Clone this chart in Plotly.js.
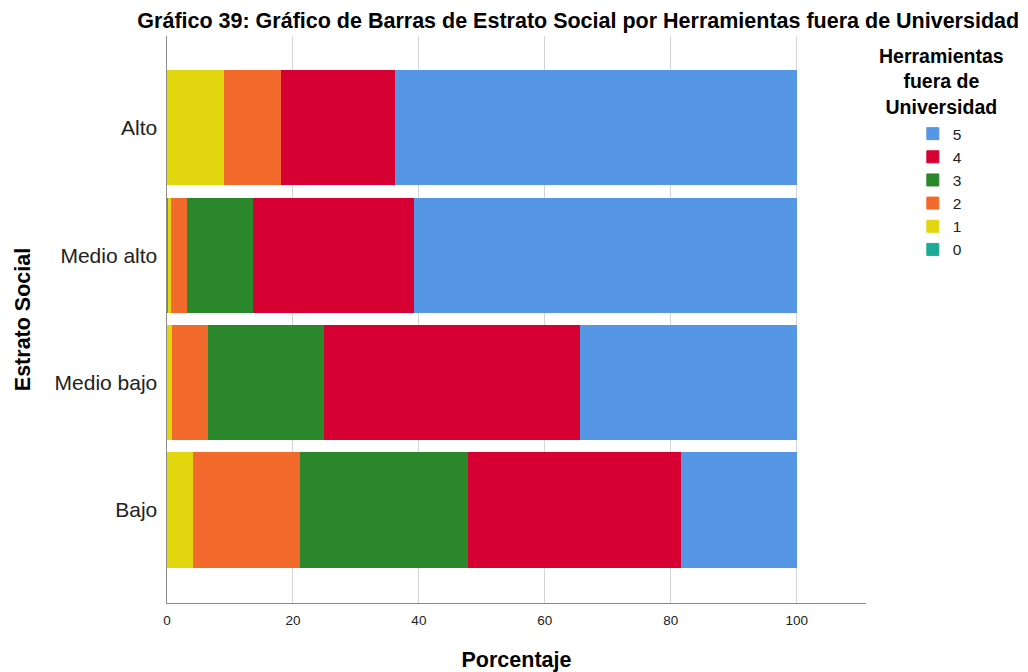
<!DOCTYPE html>
<html>
<head>
<meta charset="utf-8">
<script src="https://cdn.plot.ly/plotly-3.0.1.min.js"></script>
<style>html,body{margin:0;padding:0;background:#fff;}#chart{width:1028px;height:672px;}</style>
</head>
<body>
<div id="chart"></div>
<script>
const categories = ["Alto", "Medio alto", "Medio bajo", "Bajo"];
const seriesNames = ["0", "1", "2", "3", "4", "5"];
const v0 = [0, 0.26, 0, 0];
const v1 = [9.09, 0.43, 0.95, 4.2];
const v2 = [9.09, 2.64, 5.65, 17.0];
const v3 = [0, 10.4, 18.4, 26.7];
const v4 = [18.18, 25.6, 40.6, 33.85];
const v5 = [63.64, 60.67, 34.4, 18.25];
const xTicks = [0, 20, 40, 60, 80, 100];
const legendTitleLines = ["Herramientas", "fuera de", "Universidad"];
const colors = ["#1AAA96", "#E2D60E", "#F26A2C", "#2A872C", "#D60032", "#5596E5"];

const values = [v0, v1, v2, v3, v4, v5];
const font = "Arial, 'Liberation Sans', sans-serif";
const traces = values.map((vals, i) => ({
  type: "bar",
  orientation: "h",
  name: seriesNames[i],
  y: categories,
  x: vals,
  marker: {color: colors[i], line: {width: 1, color: colors[i]}},
  hoverinfo: "x+y+name"
}));

const layout = {
  width: 1028,
  height: 672,
  paper_bgcolor: "#fff",
  plot_bgcolor: "#fff",
  barmode: "stack",
  bargap: 0.105,
  margin: {l: 167, r: 162, t: 36, b: 69},
  font: {family: font, color: "#000"},
  title: {
    text: "<b>Gráfico 39: Gráfico de Barras de Estrato Social por Herramientas fuera de Universidad</b>",
    font: {family: font, size: 21.5, color: "#000"},
    x: 0.5625, xanchor: "center", y: 0.969, yanchor: "middle"
  },
  xaxis: {
    range: [0, 111],
    tickvals: xTicks,
    ticktext: xTicks.map(String),
    showgrid: true,
    gridcolor: "#d4d4d4",
    gridwidth: 1,
    zeroline: false,
    showline: true,
    linecolor: "#8c8c8c",
    linewidth: 1,
    ticks: "",
    ticklabelstandoff: 5,
    tickfont: {family: font, size: 13.5, color: "#222"},
    title: {text: "<b>Porcentaje</b>", font: {family: font, size: 21.5, color: "#000"}, standoff: 24},
    fixedrange: true
  },
  yaxis: {
    type: "category",
    categoryorder: "array",
    categoryarray: categories,
    range: [3.73, -0.72],
    showgrid: false,
    zeroline: false,
    showline: true,
    linecolor: "#8c8c8c",
    linewidth: 1.5,
    ticks: "",
    ticklabelstandoff: 4,
    tickfont: {family: font, size: 21, color: "#222"},
    title: {text: "<b>Estrato Social</b>", font: {family: font, size: 21.5, color: "#000"}, standoff: 18},
    fixedrange: true
  },
  legend: {
    traceorder: "reversed",
    x: 1.067, xanchor: "left",
    y: 0.857, yanchor: "top",
    font: {family: font, size: 15.5, color: "#222"},
    bgcolor: "rgba(0,0,0,0)",
    itemclick: false,
    itemdoubleclick: false
  },
  annotations: [{
    text: "<b>" + legendTitleLines.join("<br>") + "</b>",
    xref: "paper", yref: "paper",
    x: 1.1085, y: 0.9206, xanchor: "center", yanchor: "middle",
    showarrow: false, align: "center",
    font: {family: font, size: 19.5, color: "#000"}
  }]
};

Plotly.newPlot("chart", traces, layout, {displayModeBar: false, staticPlot: true});
</script>
</body>
</html>
